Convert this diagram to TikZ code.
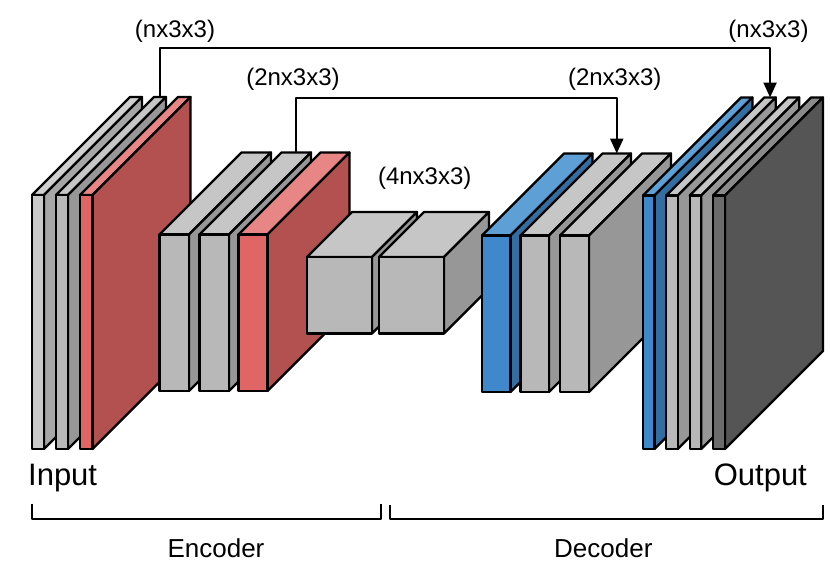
\documentclass[tikz,border=0pt]{standalone}
\usepackage{fontspec}
\setmainfont{Liberation Sans}
\usetikzlibrary{arrows.meta}
\definecolor{lgfront}{HTML}{C9C9C9}
\definecolor{lgtop}{HTML}{D0D0D0}
\definecolor{lgside}{HTML}{A6A6A6}
\definecolor{gfront}{HTML}{B8B8B8}
\definecolor{gtop}{HTML}{C6C6C6}
\definecolor{gside}{HTML}{979797}
\definecolor{rfront}{HTML}{E06666}
\definecolor{rtop}{HTML}{E88686}
\definecolor{rside}{HTML}{B35151}
\definecolor{bfront}{HTML}{3F88CB}
\definecolor{btop}{HTML}{5E9FD6}
\definecolor{bside}{HTML}{336EA3}
\definecolor{dfront}{HTML}{6B6B6B}
\definecolor{dtop}{HTML}{8A8A8A}
\definecolor{dside}{HTML}{555555}
% #1 name, #2 x, #3 ytop, #4 ybot, #5 width, #6 depth, #7 front, #8 top, #9 side
\newcommand{\mkslab}[9]{%
  \filldraw[fill=#8] (#2,#3) -- ++(#6,-#6) -- ++(#5,0) -- ({#2+#5},#3) -- cycle;
  \filldraw[fill=#9] ({#2+#5},#3) -- ++(#6,-#6) -- ++(0,{#4-#3}) -- ({#2+#5},#4) -- cycle;
  \filldraw[fill=#7] (#2,#3) rectangle ({#2+#5},#4);
  \coordinate (#1) at ({#2+#5/2+#6},{#3-#6});
}
\tikzset{
  lbl/.style={inner sep=0pt, font=\fontsize{24}{28}\selectfont},
  io/.style={inner sep=0pt, font=\fontsize{31}{36}\selectfont},
  part/.style={inner sep=0pt, font=\fontsize{26}{30}\selectfont},
  skip/.style={line width=2.2pt, -{Triangle[width=13pt,length=15pt]}},
  brace/.style={line width=2.2pt}
}
\begin{document}
\begin{tikzpicture}[x=1pt,y=-1pt,line width=2.3pt,line join=round]
\useasboundingbox (0,0) rectangle (830,562);
% encoder level 1
\mkslab{e1a}{32}{195}{449}{12}{98}{lgfront}{lgtop}{lgside}
\mkslab{e1b}{56}{195}{449}{12}{98}{gfront}{gtop}{gside}
\mkslab{e1c}{80}{195}{449}{12.5}{98}{rfront}{rtop}{rside}
% encoder level 2
\mkslab{e2a}{159.5}{234.5}{391}{29.5}{82}{gfront}{gtop}{gside}
\mkslab{e2b}{199.5}{234.5}{391}{29.5}{82}{gfront}{gtop}{gside}
\mkslab{e2c}{238.5}{234.5}{391}{29}{82}{rfront}{rtop}{rside}
% bottleneck
\mkslab{b1}{307}{257}{333.5}{65}{45}{gfront}{gtop}{gside}
\mkslab{b2}{379}{257}{333.5}{65}{45}{gfront}{gtop}{gside}
% decoder level 2
\mkslab{d1a}{482}{235.5}{392}{28.5}{82}{bfront}{btop}{bside}
\mkslab{d1b}{520.5}{235.5}{392}{28.5}{82}{gfront}{gtop}{gside}
\mkslab{d1c}{560}{235.5}{392}{29}{82}{gfront}{gtop}{gside}
% decoder level 1
\mkslab{d2a}{643}{195.5}{449}{11.5}{98}{bfront}{btop}{bside}
\mkslab{d2b}{666.3}{195.5}{449}{11.5}{98}{gfront}{gtop}{gside}
\mkslab{d2c}{689.7}{195.5}{449}{11.5}{98}{gfront}{gtop}{gside}
\mkslab{d2d}{713}{195.5}{449}{12}{98}{dfront}{dtop}{dside}
% skip connections
\coordinate (h1) at (0,48.3);
\coordinate (h2) at (0,98.3);
\draw[skip] (e1b) -- (e1b |- h1) -- (d2b |- h1) -- (d2b);
\draw[skip] (e2b) -- (e2b |- h2) -- (d1b |- h2) -- (d1b);
% labels
\node[lbl, anchor=base] (l1) at (175,37.5) {(nx3x3)};
\node[lbl, anchor=base] (r1) at (768.5,37.5) {(nx3x3)};
\node[lbl, anchor=base] (l2) at (293,85) {(2nx3x3)};
\node[lbl, anchor=base] (r2) at (614.7,85) {(2nx3x3)};
\node[lbl, anchor=base] (l3) at (424.7,184) {(4nx3x3)};
\node[io, anchor=base west] (in) at (27,485) {Input};
\node[io, anchor=base east] (out) at (808,485) {Output};
% braces
\coordinate (ea) at (31.7,503.5);
\coordinate (eb) at (380.7,503.5);
\coordinate (da) at (390,505);
\coordinate (db) at (823.3,505);
\draw[brace] (ea) -- ++(0,15.5) -| (eb);
\draw[brace] (da) -- ++(0,14) -| (db);
\node[part, anchor=base] (enc) at (216,557) {Encoder};
\node[part, anchor=base] (dec) at (603.3,557) {Decoder};
\end{tikzpicture}
\end{document}
